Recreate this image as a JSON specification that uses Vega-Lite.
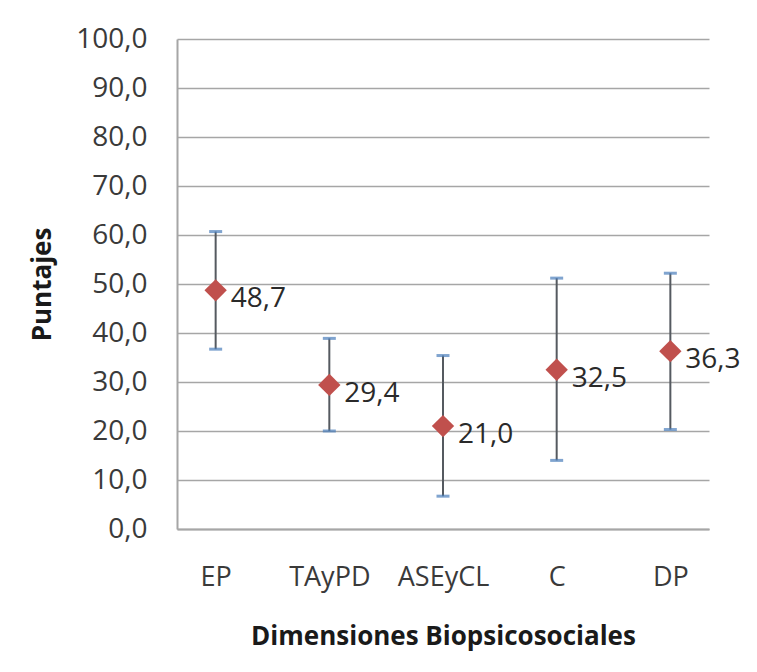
{
  "$schema": "https://vega.github.io/schema/vega-lite/v6.json",
  "autosize": "none",
  "padding": {"left": 177, "top": 39, "right": 48, "bottom": 143},
  "width": 532,
  "height": 490,
  "background": "white",
  "config": {
    "locale": {"number": {"decimal": ",", "thousands": ".", "grouping": [3], "currency": ["", " €"]}},
    "view": {"stroke": null},
    "font": "Open Sans"
  },
  "data": {
    "values": [
      {"dim": "EP", "mean": 48.7, "lower": 36.7, "upper": 60.7},
      {"dim": "TAyPD", "mean": 29.4, "lower": 20.0, "upper": 38.9},
      {"dim": "ASEyCL", "mean": 21.0, "lower": 6.7, "upper": 35.4},
      {"dim": "C", "mean": 32.5, "lower": 14.0, "upper": 51.2},
      {"dim": "DP", "mean": 36.3, "lower": 20.3, "upper": 52.2}
    ]
  },
  "encoding": {
    "x": {
      "field": "dim", "type": "nominal", "sort": null,
      "scale": {"type": "point", "padding": 0.34},
      "axis": {
        "title": "Dimensiones Biopsicosociales",
        "titleFont": "Open Sans", "titleFontSize": 26, "titleFontWeight": "bold", "titleColor": "#1a1a1a",
        "titlePadding": 33,
        "labelAngle": 0, "labelFont": "Open Sans", "labelFontSize": 27, "labelColor": "#3a3a3a",
        "labelPadding": 35, "ticks": false, "grid": false,
        "domainColor": "#a6a6a6", "domainWidth": 2
      }
    }
  },
  "layer": [
    {
      "mark": {"type": "rule", "color": "#555a60", "strokeWidth": 2},
      "encoding": {
        "y": {
          "field": "lower", "type": "quantitative",
          "scale": {"domain": [0, 100], "nice": false},
          "axis": {
            "title": "Puntajes",
            "titleFont": "Open Sans", "titleFontSize": 26, "titleFontWeight": "bold", "titleColor": "#1a1a1a",
            "titlePadding": 20,
            "values": [0, 10, 20, 30, 40, 50, 60, 70, 80, 90, 100],
            "format": ".1f",
            "labelFont": "Open Sans", "labelFontSize": 28, "labelColor": "#3a3a3a",
            "labelPadding": 30, "ticks": false,
            "grid": true, "gridColor": "#a6a6a6", "gridWidth": 1.6,
            "domainColor": "#a6a6a6", "domainWidth": 2
          }
        },
        "y2": {"field": "upper"}
      }
    },
    {
      "mark": {"type": "tick", "color": "#4a7ebb", "size": 13, "thickness": 3},
      "encoding": {"y": {"field": "lower", "type": "quantitative"}}
    },
    {
      "mark": {"type": "tick", "color": "#4a7ebb", "size": 13, "thickness": 3},
      "encoding": {"y": {"field": "upper", "type": "quantitative"}}
    },
    {
      "mark": {"type": "point", "shape": "diamond", "filled": true, "color": "#c0504d", "size": 500, "opacity": 1},
      "encoding": {"y": {"field": "mean", "type": "quantitative"}}
    },
    {
      "mark": {"type": "text", "align": "left", "baseline": "middle", "dx": 15, "dy": 9, "font": "Open Sans", "fontSize": 28, "color": "#2a2a2a"},
      "encoding": {
        "y": {"field": "mean", "type": "quantitative"},
        "text": {"field": "mean", "type": "quantitative", "format": ".1f"}
      }
    }
  ]
}
